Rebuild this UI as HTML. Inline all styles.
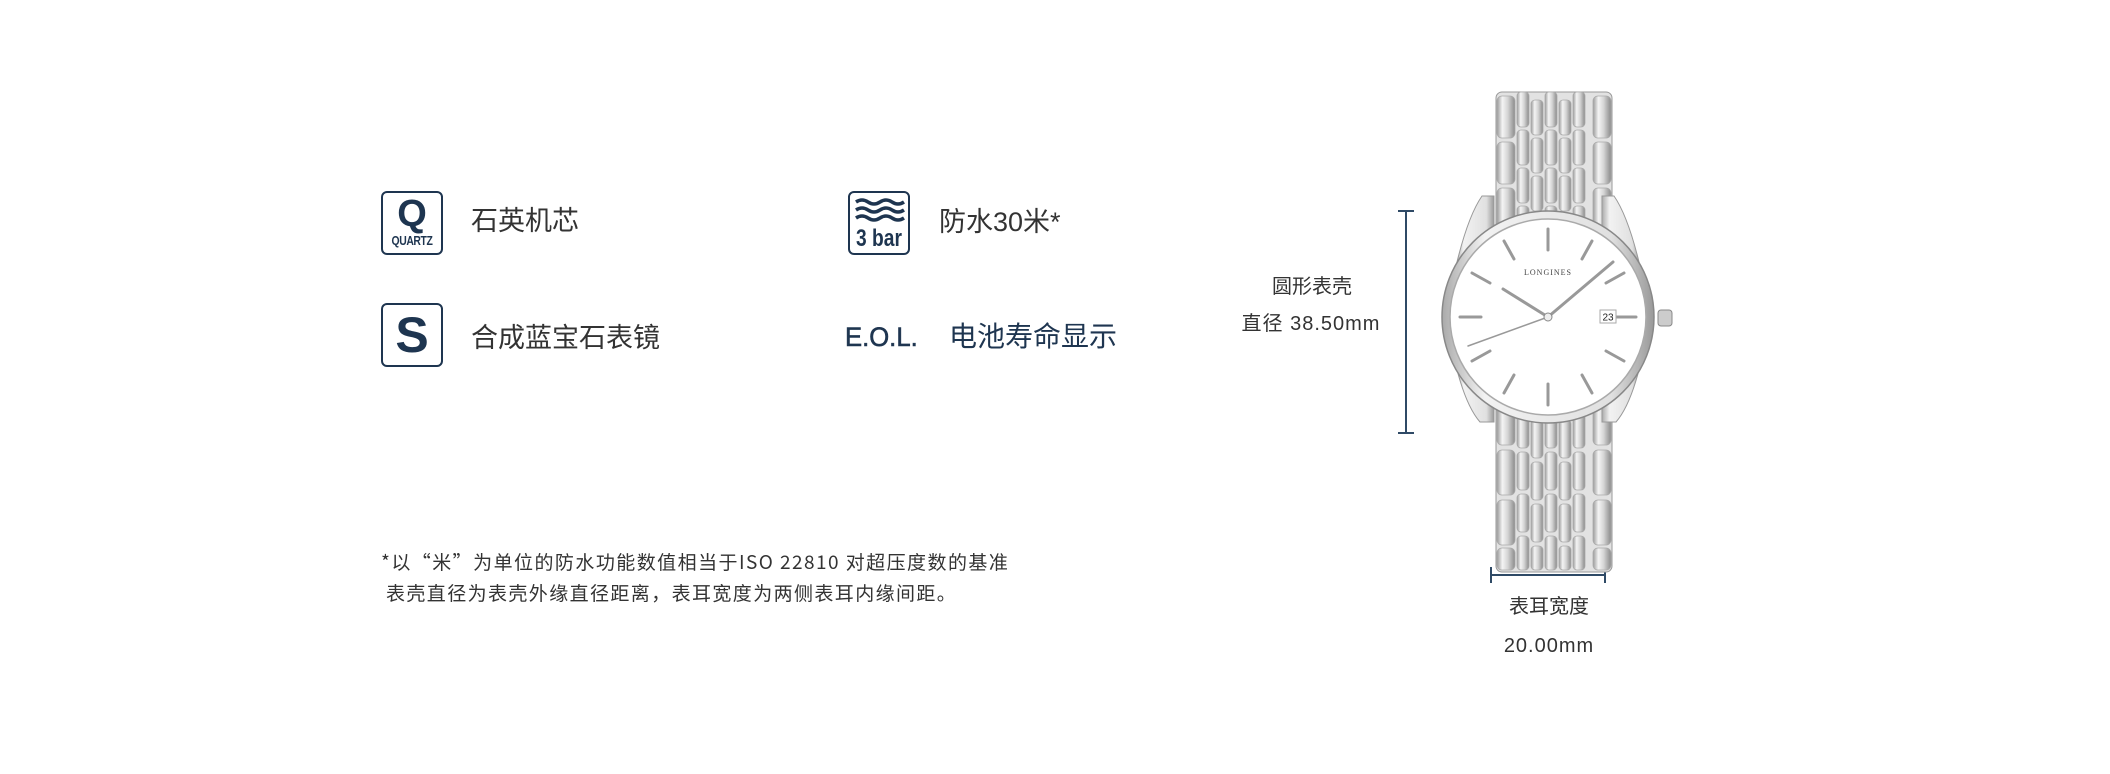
<!DOCTYPE html>
<html><head><meta charset="utf-8"><style>
body{margin:0;width:2110px;height:774px;background:#fff;position:relative;overflow:hidden;font-family:"Liberation Sans","Noto Sans CJK SC",sans-serif;color:#333}
.t{position:absolute;white-space:nowrap;line-height:1}
.icon{position:absolute;width:62px;height:64px;border:2px solid #1e3550;border-radius:6px;box-sizing:border-box;color:#1e3550;text-align:center;font-weight:bold;overflow:hidden}
</style></head><body>
<div class="icon" style="left:381px;top:191px"><div style="font-size:38px;line-height:38px;margin-top:2px">Q</div><div style="font-size:13px;transform:scaleX(.8);letter-spacing:-0.5px">QUARTZ</div></div>
<div class="t" style="left:471px;top:208px;font-size:27px">石英机芯</div>
<div class="icon" style="left:381px;top:303px"><div style="font-size:50px;line-height:60px">S</div></div>
<div class="t" style="left:471px;top:325px;font-size:27px">合成蓝宝石表镜</div>
<div class="icon" style="left:848px;top:191px">
<svg width="58" height="30" style="position:absolute;left:0;top:2px" viewBox="0 0 58 30"><g fill="none" stroke="#1e3550" stroke-width="3.5"><path d="M6 7q6-4 12 0t12 0 12 0 12 0"/><path d="M6 15q6-4 12 0t12 0 12 0 12 0"/><path d="M6 23q6-4 12 0t12 0 12 0 12 0"/></g></svg>
<div style="position:absolute;left:-10px;right:-10px;top:33px;font-size:24px;line-height:26px;white-space:nowrap;transform:scaleX(.8)">3 bar</div></div>
<div class="t" style="left:939px;top:209px;font-size:27px">防水30米*</div>
<div class="t" style="left:845px;top:324px;font-size:27px;color:#1e3550;transform:scaleX(.95);transform-origin:left;-webkit-text-stroke:0.6px #1e3550">E.O.L.</div>
<div class="t" style="left:949px;top:323px;font-size:28px;color:#1e3550">电池寿命显示</div>
<div class="t" style="left:381px;top:552px;font-size:19px;letter-spacing:1.45px;font-family:'Noto Sans CJK SC',sans-serif">*以“米”为单位的防水功能数值相当于ISO 22810 对超压度数的基准</div>
<div class="t" style="left:386px;top:583px;font-size:19px;letter-spacing:1.4px;font-family:'Noto Sans CJK SC',sans-serif">表壳直径为表壳外缘直径距离，表耳宽度为两侧表耳内缘间距。</div>
<div class="t" style="left:1262px;top:277px;font-size:20px;width:100px;text-align:center">圆形表壳</div>
<div class="t" style="left:1220px;top:314px;font-size:20px;width:182px;text-align:center;letter-spacing:1px">直径 38.50mm</div>
<div class="t" style="left:1489px;top:597px;font-size:20px;width:120px;text-align:center">表耳宽度</div>
<div class="t" style="left:1489px;top:636px;font-size:20px;width:120px;text-align:center;letter-spacing:1px">20.00mm</div>
<svg width="2110" height="774" style="position:absolute;left:0;top:0">
<defs>
<linearGradient id="m" x1="0" x2="1"><stop offset="0" stop-color="#9a9a9a"/><stop offset=".3" stop-color="#f4f4f4"/><stop offset=".6" stop-color="#d4d4d4"/><stop offset="1" stop-color="#8a8a8a"/></linearGradient>
<linearGradient id="c" x1="0" x2="1"><stop offset="0" stop-color="#aaa"/><stop offset=".2" stop-color="#f2f2f2"/><stop offset=".8" stop-color="#e0e0e0"/><stop offset="1" stop-color="#999"/></linearGradient>
</defs>
<g stroke="#2f4a66" stroke-width="2"><line x1="1406" y1="211" x2="1406" y2="433"/><line x1="1398" y1="211" x2="1414" y2="211"/><line x1="1398" y1="433" x2="1414" y2="433"/>
<line x1="1491" y1="575" x2="1605" y2="575"/><line x1="1491" y1="567" x2="1491" y2="583"/><line x1="1605" y1="567" x2="1605" y2="583"/></g>
<g stroke="#999" stroke-width="1">
<rect x="1496" y="92" width="116" height="150" rx="6" fill="#e2e2e2"/>
<rect x="1496" y="390" width="116" height="182" rx="6" fill="#e2e2e2"/>
</g>
<g fill="url(#m)" stroke="#aaa" stroke-width="0.8">
<rect x="1497" y="96" width="18" height="42" rx="5"/><rect x="1497" y="142" width="18" height="42" rx="5"/><rect x="1497" y="188" width="18" height="50" rx="5"/>
<rect x="1593" y="96" width="18" height="42" rx="5"/><rect x="1593" y="142" width="18" height="42" rx="5"/><rect x="1593" y="188" width="18" height="50" rx="5"/>
<rect x="1517" y="92" width="12" height="35" rx="4"/><rect x="1517" y="130" width="12" height="35" rx="4"/><rect x="1517" y="168" width="12" height="35" rx="4"/><rect x="1517" y="206" width="12" height="35" rx="4"/>
<rect x="1531" y="100" width="12" height="35" rx="4"/><rect x="1531" y="138" width="12" height="35" rx="4"/><rect x="1531" y="176" width="12" height="35" rx="4"/>
<rect x="1545" y="92" width="12" height="35" rx="4"/><rect x="1545" y="130" width="12" height="35" rx="4"/><rect x="1545" y="168" width="12" height="35" rx="4"/><rect x="1545" y="206" width="12" height="35" rx="4"/>
<rect x="1559" y="100" width="12" height="35" rx="4"/><rect x="1559" y="138" width="12" height="35" rx="4"/><rect x="1559" y="176" width="12" height="35" rx="4"/>
<rect x="1573" y="92" width="12" height="35" rx="4"/><rect x="1573" y="130" width="12" height="35" rx="4"/><rect x="1573" y="168" width="12" height="35" rx="4"/><rect x="1573" y="206" width="12" height="35" rx="4"/>
<rect x="1497" y="400" width="18" height="45" rx="5"/><rect x="1497" y="450" width="18" height="45" rx="5"/><rect x="1497" y="500" width="18" height="45" rx="5"/><rect x="1497" y="548" width="18" height="22" rx="5"/>
<rect x="1593" y="400" width="18" height="45" rx="5"/><rect x="1593" y="450" width="18" height="45" rx="5"/><rect x="1593" y="500" width="18" height="45" rx="5"/><rect x="1593" y="548" width="18" height="22" rx="5"/>
<rect x="1517" y="410" width="12" height="38" rx="4"/><rect x="1517" y="452" width="12" height="38" rx="4"/><rect x="1517" y="494" width="12" height="38" rx="4"/><rect x="1517" y="536" width="12" height="34" rx="4"/>
<rect x="1531" y="420" width="12" height="38" rx="4"/><rect x="1531" y="462" width="12" height="38" rx="4"/><rect x="1531" y="504" width="12" height="38" rx="4"/><rect x="1531" y="546" width="12" height="24" rx="4"/>
<rect x="1545" y="410" width="12" height="38" rx="4"/><rect x="1545" y="452" width="12" height="38" rx="4"/><rect x="1545" y="494" width="12" height="38" rx="4"/><rect x="1545" y="536" width="12" height="34" rx="4"/>
<rect x="1559" y="420" width="12" height="38" rx="4"/><rect x="1559" y="462" width="12" height="38" rx="4"/><rect x="1559" y="504" width="12" height="38" rx="4"/><rect x="1559" y="546" width="12" height="24" rx="4"/>
<rect x="1573" y="410" width="12" height="38" rx="4"/><rect x="1573" y="452" width="12" height="38" rx="4"/><rect x="1573" y="494" width="12" height="38" rx="4"/><rect x="1573" y="536" width="12" height="34" rx="4"/>
</g>
<path d="M1482 196 q-14 20 -26 70 v100 q10 40 24 56 h14 v-226z" fill="url(#c)" stroke="#999"/>
<path d="M1614 196 q14 20 26 70 v100 q-10 40 -24 56 h-14 v-226z" fill="url(#c)" stroke="#999"/>
<rect x="1658" y="310" width="14" height="16" rx="3" fill="#ccc" stroke="#888"/>
<circle cx="1548" cy="317" r="106" fill="url(#c)" stroke="#888" stroke-width="1.5"/>
<circle cx="1548" cy="317" r="98" fill="#fff" stroke="#aaa" stroke-width="1.5"/>
<g stroke="#999" stroke-width="3" stroke-linecap="round">
<line x1="1548" y1="229" x2="1548" y2="250"/><line x1="1548" y1="384" x2="1548" y2="405"/>
<line x1="1460" y1="317" x2="1481" y2="317"/><line x1="1615" y1="317" x2="1636" y2="317"/>
<line x1="1504" y1="241" x2="1514" y2="259"/><line x1="1592" y1="241" x2="1582" y2="259"/>
<line x1="1504" y1="393" x2="1514" y2="375"/><line x1="1592" y1="393" x2="1582" y2="375"/>
<line x1="1472" y1="273" x2="1490" y2="283"/><line x1="1624" y1="273" x2="1606" y2="283"/>
<line x1="1472" y1="361" x2="1490" y2="351"/><line x1="1624" y1="361" x2="1606" y2="351"/>
<line x1="1548" y1="317" x2="1503" y2="289" stroke-width="3"/><line x1="1548" y1="317" x2="1613" y2="262" stroke-width="3"/>
<line x1="1548" y1="317" x2="1468" y2="346" stroke-width="1.5"/></g>
<circle cx="1548" cy="317" r="4" fill="#eee" stroke="#888"/>
<rect x="1600" y="310" width="16" height="13" fill="#fff" stroke="#aaa"/>
<text x="1608" y="320.5" font-size="10" text-anchor="middle" fill="#222" font-family="Liberation Sans">23</text>
<text x="1548" y="275" font-size="8" text-anchor="middle" fill="#444" font-family="Liberation Serif" letter-spacing="1">LONGINES</text>
</svg>
</body></html>
